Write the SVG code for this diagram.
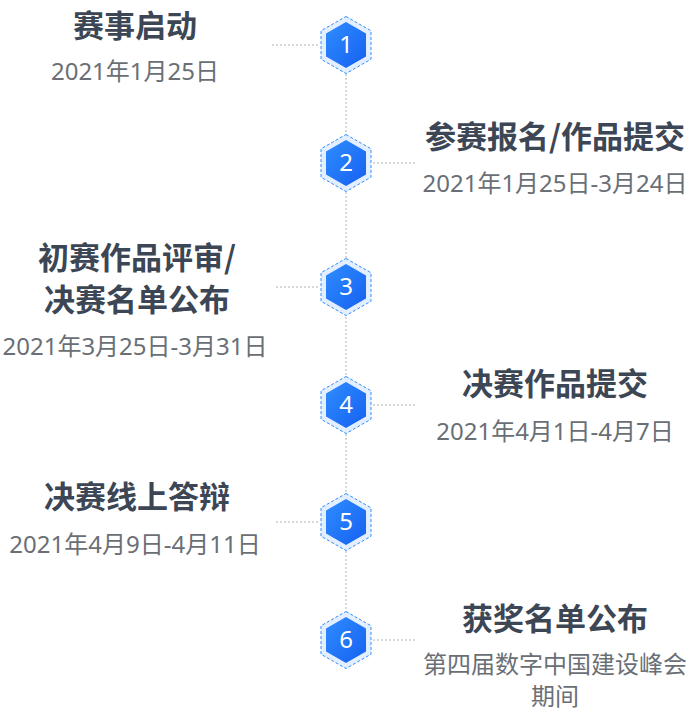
<svg xmlns="http://www.w3.org/2000/svg" width="691" height="719" viewBox="0 0 691 719">
<defs>
<linearGradient id="g" x1="0" y1="0" x2="1" y2="1"><stop offset="0" stop-color="#2f8dff"/><stop offset="1" stop-color="#1560f0"/></linearGradient>
<g id="hex">
<polygon points="0,-28.5 25,-14.25 25,14.25 0,28.5 -25,14.25 -25,-14.25" fill="#e3efff" stroke="#2f8dff" stroke-width="1" stroke-dasharray="3,2"/>
<polygon points="0,-23 20,-11.5 20,11.5 0,23 -20,11.5 -20,-11.5" fill="url(#g)"/>
</g>
</defs>
<style>
.t{font-family:"Noto Sans CJK SC","Noto Sans",sans-serif;font-weight:bold;font-size:31px;fill:#3c4654}
.d{font-family:"Noto Sans","Noto Sans CJK SC",sans-serif;font-size:24px;fill:#6a6f76}
.n{font-family:"Noto Sans",sans-serif;font-size:24px;fill:#fff;text-anchor:middle}
.c{stroke:#aab0b8;stroke-width:1;stroke-dasharray:2,2;fill:none}
</style>
<g id="connectors">
<line class="c" x1="346" y1="74" x2="346" y2="134"/>
<line class="c" x1="346" y1="192" x2="346" y2="259"/>
<line class="c" x1="346" y1="317" x2="346" y2="376"/>
<line class="c" x1="346" y1="434" x2="346" y2="493"/>
<line class="c" x1="346" y1="551" x2="346" y2="611"/>
<line class="c" x1="272" y1="45" x2="318" y2="45"/>
<line class="c" x1="373" y1="163" x2="416" y2="163"/>
<line class="c" x1="276" y1="287" x2="318" y2="287"/>
<line class="c" x1="373" y1="405" x2="416" y2="405"/>
<line class="c" x1="276" y1="522" x2="318" y2="522"/>
<line class="c" x1="373" y1="640" x2="416" y2="640"/>
</g>
<g id="n1"><use href="#hex" x="346" y="45"/><text class="n" x="346" y="53">1</text>
<text class="t" x="135" y="37" text-anchor="middle">赛事启动</text><text class="d" x="135" y="80" text-anchor="middle">2021年1月25日</text></g>
<g id="n2"><use href="#hex" x="346" y="163"/><text class="n" x="346" y="171">2</text>
<text class="t" x="555" y="148" text-anchor="middle">参赛报名/作品提交</text><text class="d" x="555" y="192" text-anchor="middle">2021年1月25日-3月24日</text></g>
<g id="n3"><use href="#hex" x="346" y="287"/><text class="n" x="346" y="295">3</text>
<text class="t" x="137" y="269" text-anchor="middle">初赛作品评审/</text><text class="t" x="137" y="311" text-anchor="middle">决赛名单公布</text><text class="d" x="135" y="355" text-anchor="middle">2021年3月25日-3月31日</text></g>
<g id="n4"><use href="#hex" x="346" y="405"/><text class="n" x="346" y="413">4</text>
<text class="t" x="555" y="395" text-anchor="middle">决赛作品提交</text><text class="d" x="555" y="440" text-anchor="middle">2021年4月1日-4月7日</text></g>
<g id="n5"><use href="#hex" x="346" y="522"/><text class="n" x="346" y="530">5</text>
<text class="t" x="137" y="508" text-anchor="middle">决赛线上答辩</text><text class="d" x="135" y="553" text-anchor="middle">2021年4月9日-4月11日</text></g>
<g id="n6"><use href="#hex" x="346" y="640"/><text class="n" x="346" y="648">6</text>
<text class="t" x="555" y="630" text-anchor="middle">获奖名单公布</text><text class="d" x="555" y="673" text-anchor="middle">第四届数字中国建设峰会</text><text class="d" x="555" y="705" text-anchor="middle">期间</text></g>
</svg>
